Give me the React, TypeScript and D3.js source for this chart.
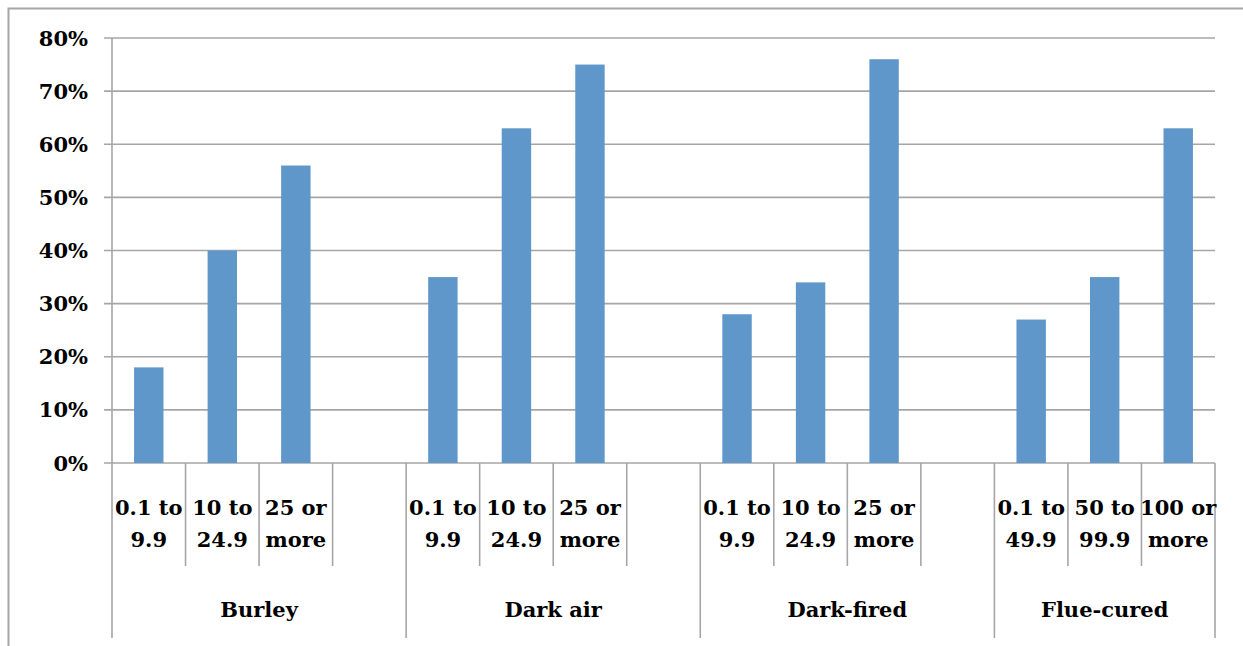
import React from "react";
import * as d3 from "d3";

const groups = ["Burley", "Dark air", "Dark-fired", "Flue-cured"];
const subLabels: string[][][] = [
  [["0.1 to", "9.9"], ["10 to", "24.9"], ["25 or", "more"]],
  [["0.1 to", "9.9"], ["10 to", "24.9"], ["25 or", "more"]],
  [["0.1 to", "9.9"], ["10 to", "24.9"], ["25 or", "more"]],
  [["0.1 to", "49.9"], ["50 to", "99.9"], ["100 or", "more"]],
];
const burley = [0.18, 0.4, 0.56];
const darkAir = [0.35, 0.63, 0.75];
const darkFired = [0.28, 0.34, 0.76];
const flueCured = [0.27, 0.35, 0.63];
const values = [burley, darkAir, darkFired, flueCured];
const yTicks = [0, 0.1, 0.2, 0.3, 0.4, 0.5, 0.6, 0.7, 0.8];

const W = 1243, H = 646;
const L = 112, R = 1215, T = 38, B = 463;
const FONT = '"DejaVu Serif", serif';
const GRID = "#A6A6A6";
const BAR = "#6097CB";
const TXT: React.CSSProperties = { fontFamily: FONT, fontWeight: 700, fontSize: "21px" };

type Slot = { key: string; g: number; i: number; empty: boolean };

export default function App() {
  const slots: Slot[] = [];
  groups.forEach((_, g) => {
    values[g].forEach((_, i) => slots.push({ key: `${g}-${i}`, g, i, empty: false }));
    if (g < groups.length - 1) slots.push({ key: `${g}-e`, g, i: -1, empty: true });
  });
  const x = d3.scaleBand<string>().domain(slots.map((s) => s.key)).range([L, R]);
  const y = d3.scaleLinear().domain([0, 0.8]).range([B, T]);
  const bw = x.bandwidth();
  const barW = bw * 0.4;
  const fmt = d3.format(".0%");

  const groupStarts = groups.map((_, g) => x(slots.find((s) => s.g === g)!.key)!);
  const groupEnds = groups.map((_, g, arr) =>
    g < arr.length - 1 ? groupStarts[g + 1] : R
  );

  return (
    <svg
      width={W}
      height={H}
      style={{ position: "absolute", left: 0, top: 0, background: "#fff" }}
    >
      <rect x={8.5} y={8.5} width={W + 20} height={H + 20} fill="none" stroke={GRID} strokeWidth={2} />
      {yTicks.map((t) => (
        <g key={t}>
          <line x1={L - 8} x2={R} y1={y(t)} y2={y(t)} stroke={GRID} strokeWidth={1.6} />
          <text
            x={88}
            y={y(t)}
            textAnchor="end"
            dominantBaseline="central"
            style={TXT}
            fill="#000"
          >
            {fmt(t)}
          </text>
        </g>
      ))}
      <line x1={L} x2={L} y1={T} y2={B} stroke={GRID} strokeWidth={1.6} />
      {slots.map((s) =>
        s.empty ? null : (
          <rect
            key={s.key}
            x={x(s.key)! + (bw - barW) / 2}
            width={barW}
            y={y(values[s.g][s.i])}
            height={B - y(values[s.g][s.i])}
            fill={BAR}
          />
        )
      )}
      {slots.map((s) => {
        const x0 = x(s.key)!;
        const isGroupStart = groupStarts.includes(x0);
        return (
          <line
            key={"d" + s.key}
            x1={x0}
            x2={x0}
            y1={B}
            y2={isGroupStart ? 638 : 566}
            stroke={GRID}
            strokeWidth={1.6}
          />
        );
      })}
      <line x1={R} x2={R} y1={B} y2={638} stroke={GRID} strokeWidth={1.6} />
      {slots.map((s) =>
        s.empty ? null : (
          <text key={"t" + s.key} textAnchor="middle" style={TXT} fill="#000">
            {subLabels[s.g][s.i].map((ln, k) => (
              <tspan key={k} x={x(s.key)! + bw / 2} y={515 + k * 31.5}>
                {ln}
              </tspan>
            ))}
          </text>
        )
      )}
      {groups.map((gname, g) => (
        <text
          key={gname}
          x={(groupStarts[g] + groupEnds[g]) / 2}
          y={617}
          textAnchor="middle"
          style={TXT}
          fill="#000"
        >
          {gname}
        </text>
      ))}
    </svg>
  );
}
